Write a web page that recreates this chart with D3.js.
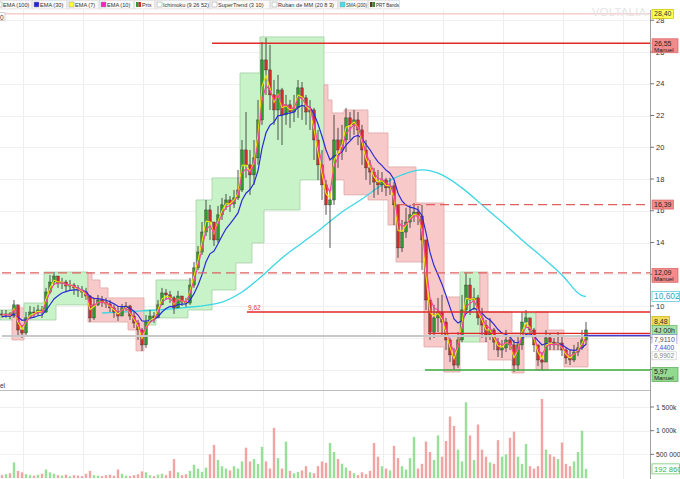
<!DOCTYPE html>
<html><head><meta charset="utf-8">
<script src="https://cdn.jsdelivr.net/npm/d3@7"></script>
<style>
body{margin:0;background:#fff;}
svg{display:block;}
text{font-family:"Liberation Sans",Arial,sans-serif;}
</style></head>
<body><svg id="c" width="680" height="479"></svg>
<script>
// ---------- DATA ----------
const closes=[9.43,9.50,9.37,10.07,8.49,8.30,9.25,9.62,9.56,9.75,
9.62,10.88,11.51,11.89,11.45,11.51,11.26,11.32,11.14,11.01,
10.88,10.63,9.25,10.07,10.38,10.25,10.13,9.88,9.62,9.37,
9.88,10.00,9.37,8.93,8.49,7.55,8.99,9.37,9.25,10.07,
10.82,10.70,10.51,9.88,10.63,10.25,10.19,11.32,12.40,13.40,
14.66,16.05,15.29,14.16,15.74,16.37,16.68,16.43,16.81,17.31,
19.83,18.89,18.26,19.33,21.72,25.50,24.87,23.30,22.35,23.61,
22.04,22.67,22.22,22.48,23.74,23.11,22.22,22.35,20.46,18.89,
17.63,16.37,16.68,20.46,19.83,20.46,21.85,21.41,21.72,21.09,
19.83,18.70,18.44,17.81,17.63,17.94,17.44,17.56,16.37,13.66,
14.66,15.29,15.74,15.92,15.67,14.16,10.38,8.36,9.25,9.62,
8.99,7.86,6.92,6.28,7.86,9.75,11.32,10.38,10.51,9.25,
8.80,8.17,8.49,7.73,7.23,7.36,7.86,7.55,6.28,7.55,
8.99,9.25,8.49,7.55,6.60,6.47,7.99,7.73,7.55,7.67,
7.23,6.73,6.60,7.10,7.36,7.86,8.49];
const highs=[9.75,9.75,9.62,10.38,9.88,8.80,9.62,10.00,9.94,10.07,
10.00,11.14,11.95,12.14,11.89,11.77,11.64,11.64,11.45,11.32,
11.26,11.14,10.70,10.51,10.70,10.63,10.51,10.38,10.07,10.00,
10.13,10.25,10.07,9.62,9.12,8.62,9.43,9.75,9.62,10.38,
11.14,11.07,10.95,10.63,10.95,10.57,10.51,11.77,12.77,13.78,
15.29,16.68,16.37,15.04,16.30,16.81,17.06,16.93,17.31,18.57,
20.46,22.22,19.83,20.46,22.98,26.63,26.89,26.45,24.24,24.56,
23.74,23.30,22.98,23.30,24.24,24.11,23.30,22.98,22.48,21.09,
19.83,17.94,17.31,22.04,21.22,21.41,22.48,22.22,22.35,22.22,
21.41,20.46,19.20,18.70,18.57,18.44,18.07,18.07,17.81,15.73,
15.42,16.18,16.37,16.49,16.30,16.37,12.90,10.38,10.07,10.51,
10.70,9.25,7.99,7.36,8.36,10.70,12.08,11.77,11.14,10.70,
9.88,9.12,9.25,8.62,7.99,7.86,8.49,8.17,7.86,8.17,
9.62,9.75,9.25,8.62,7.55,7.10,8.49,8.30,7.99,8.36,
8.17,7.36,7.23,7.55,7.73,8.49,8.99];
const lows=[9.25,9.25,9.18,9.25,8.05,7.99,8.17,9.25,9.25,9.37,
9.25,9.56,10.76,11.32,11.14,11.07,10.88,10.95,10.70,10.57,
10.51,10.38,8.99,9.12,10.00,9.94,9.88,9.62,9.25,9.06,
9.56,9.69,9.12,8.62,7.86,7.17,7.36,8.99,8.93,9.25,
10.07,10.38,10.19,9.50,10.07,10.00,9.94,10.07,11.14,12.27,
13.22,14.41,14.16,13.78,13.97,15.42,16.05,15.92,16.18,16.68,
17.18,18.07,17.00,17.63,18.89,21.41,23.30,22.35,21.41,20.46,
20.14,21.41,21.22,21.59,21.85,21.72,21.41,21.09,19.20,17.94,
16.68,15.74,13.66,16.37,18.70,19.20,19.70,20.46,20.78,20.14,
18.89,17.94,17.63,16.81,17.00,17.18,16.93,17.00,15.10,13.03,
13.40,14.29,14.92,15.29,15.10,12.27,9.75,7.86,7.99,8.36,
8.17,7.23,6.47,5.97,6.10,7.73,9.62,9.43,9.75,8.80,
7.99,7.73,7.86,7.23,6.79,6.73,7.10,7.23,5.84,5.91,
7.23,8.62,8.11,7.10,6.22,5.97,6.60,7.23,7.23,7.23,
6.85,6.35,6.28,6.47,6.85,7.23,7.55];
// volume in thousands
const volumes=[60,80,100,330,150,120,80,60,50,70,
90,180,120,90,60,50,70,40,60,50,
40,90,150,60,50,40,60,70,50,180,
90,50,40,60,80,140,120,60,40,70,
90,60,150,400,120,60,80,150,280,200,
130,220,500,700,380,250,200,160,250,200,
350,640,350,400,300,660,350,200,1060,420,
200,770,150,100,130,160,250,120,100,250,
350,320,740,550,400,300,220,150,100,60,
120,80,150,740,450,250,200,160,680,420,
250,180,420,870,200,300,770,550,380,900,
450,780,1300,1100,600,350,1600,900,380,1130,
600,450,330,300,800,450,500,850,980,450,
300,720,250,200,250,1670,600,500,450,400,
750,300,250,350,550,1000,192.86];
// PRT bands: steps [fromIndex, price]
const bandUpperSteps=[[0,9.75],[3,9.88],[6,10.19],[11,12.14],[22,12.08],[23,11.64],[25,11.14],[27,10.51],[36,9.75],[39,11.64],[49,16.68],[53,18.07],[60,24.68],[65,26.95],[81,23.93],[82,22.98],[83,22.16],[86,22.35],[92,20.90],[97,18.76],[104,16.49],[111,10.57],[115,12.14],[122,9.62],[128,8.30],[131,9.56],[134,9.62],[137,8.49],[141,7.99]];
const bandLowerSteps=[[0,9.12],[3,7.86],[6,9.12],[14,10.07],[22,8.99],[32,8.49],[34,7.17],[36,8.80],[39,9.25],[47,9.75],[53,11.01],[59,12.71],[63,13.97],[66,16.05],[75,17.94],[81,17.31],[83,17.94],[86,17.00],[92,16.68],[97,15.10],[99,12.77],[106,7.42],[111,5.84],[115,7.73],[122,6.60],[128,5.78],[131,8.05],[134,5.97],[137,7.23],[141,6.16]];
const trendRuns=[[0,"up"],[3,"down"],[6,"up"],[22,"down"],[36,"up"],[81,"down"],[115,"up"],[120,"down"],[131,"up"],[134,"down"]];
// SMA(200) read at sample indices
const smaIdx=[25,35,45,55,60,65,70,75,80,85,90,95,100,105,110,115,120,125,130,135,140,145,146];
const smaVals=[9.56,9.69,9.88,10.25,10.88,11.89,13.03,13.97,14.92,15.92,16.74,17.63,18.26,18.57,18.26,17.44,16.37,15.29,14.16,13.09,11.95,10.65,10.60];
// horizontal levels
const levelValues=[28.40,26.55,16.39,12.09,9.62,8.11,8.27,8.14,5.97];
const levelStartIdx=[0,52.5,99,0,61.25,0,106.5,145.5,105.75];
const priceTicks=[6,8,10,12,14,16,18,20,22,24,26,28];
const priceTickLabels=[14,16,18,20,22,24,26,28,10];
const volTicks=[500,1000,1500];
const volTickLabels=["500 000","1 000k","1 500k"];
const legendItems=["EMA (100)","EMA (30)","EMA (7)","EMA (10)","Prix","Ichimoku (9 26 52)","SuperTrend (3 10)","Ruban de MM (20 8 3)","SMA (200)","PRT Bands"];

// ---------- LAYOUT ----------
const svg=d3.select("#c");
const plotR=650, mainTop=10, mainBot=390, volBot=478;
const N=closes.length;
const x=d3.scaleLinear().domain([0,N-1]).range([2,586]);
const y=d3.scaleLinear().domain([10,26]).range([306,52]);
const yv=d3.scaleLinear().domain([0,1500]).range([volBot,407]);

const defs=svg.append("defs");
defs.append("clipPath").attr("id","mainClip").append("rect").attr("x",0).attr("y",mainTop).attr("width",plotR).attr("height",mainBot-mainTop);

// grid
const grid=svg.append("g");
grid.selectAll(".hg").data(priceTicks).join("line").attr("x1",0).attr("x2",plotR)
  .attr("y1",d=>Math.round(y(d))+0.5).attr("y2",d=>Math.round(y(d))+0.5).attr("stroke","#f0f0f0");
grid.selectAll(".vgl").data(volTicks).join("line").attr("x1",0).attr("x2",plotR)
  .attr("y1",d=>Math.round(yv(d))+0.5).attr("y2",d=>Math.round(yv(d))+0.5).attr("stroke","#f0f0f0");
grid.selectAll(".vg").data(d3.range(5.25,160,15)).join("line")
  .attr("x1",d=>Math.round(x(d))+0.5).attr("x2",d=>Math.round(x(d))+0.5)
  .attr("y1",mainTop).attr("y2",479).attr("stroke","#eeeeee");

const main=svg.append("g").attr("clip-path","url(#mainClip)");

// bands
function stepVal(steps,i){let v=steps[0][1];for(const s of steps){if(i>=s[0])v=s[1];}return v;}
trendRuns.forEach((r,k)=>{
  const a=r[0], b=(k+1<trendRuns.length?trendRuns[k+1][0]:N);
  const pts=d3.range(a,b).map(i=>({xl:x(i)-2,up:stepVal(bandUpperSteps,i),lo:stepVal(bandLowerSteps,i)}));
  const last=pts[pts.length-1];
  pts.push({xl:x(b-1)+2,up:last.up,lo:last.lo});
  const area=d3.area().x(d=>d.xl).y0(d=>y(d.lo)).y1(d=>y(d.up)).curve(d3.curveStepAfter);
  main.append("path").attr("d",area(pts))
    .attr("fill",r[1]==="up"?"#c8f3c8":"#f8c9c9")
    .attr("stroke",r[1]==="up"?"#a3cfa3":"#dea7a7").attr("stroke-width",0.8);
});

// levels
const levelStyle=[
 {c:"#f2b4b4",w:1,d:null},{c:"#e02828",w:1.4,d:null},{c:"#e06060",w:1.2,d:"9,5"},
 {c:"#e06060",w:1.2,d:"9,5"},{c:"#e02828",w:1.4,d:null},{c:"#c8c8c8",w:2,d:null},
 {c:"#e02828",w:1.3,d:null},{c:"#4a3ad0",w:1.5,d:null},{c:"#3aa83a",w:1.5,d:null}];
levelValues.forEach((v,k)=>{
  const s=levelStyle[k];
  svg.append("line").attr("x1",x(levelStartIdx[k])).attr("x2",plotR)
    .attr("y1",y(v)).attr("y2",y(v)).attr("stroke",s.c).attr("stroke-width",s.w)
    .attr("stroke-dasharray",s.d);
});
svg.append("text").attr("x",x(levelStartIdx[4])+1).attr("y",y(levelValues[4])-2.5)
  .attr("font-size",6.5).attr("fill","#e04040").text("9,62");

// SMA 200
main.append("path").datum(smaIdx.map((d,i)=>[d,smaVals[i]]))
  .attr("d",d3.line().x(d=>x(d[0])).y(d=>y(d[1])).curve(d3.curveMonotoneX))
  .attr("fill","none").attr("stroke","#3dd6e6").attr("stroke-width",1.3);

// candles
const opens=closes.map((c,i)=>i?closes[i-1]:9.5);
const cd=closes.map((c,i)=>({i,o:opens[i],c,h:Math.max(highs[i],c,opens[i]),l:Math.min(lows[i],c,opens[i]),up:c>=opens[i]}));
const cg=main.append("g");
cg.selectAll(".w").data(cd).join("line").attr("x1",d=>x(d.i)).attr("x2",d=>x(d.i))
  .attr("y1",d=>y(d.h)).attr("y2",d=>y(d.l)).attr("stroke","#2a2a2a").attr("stroke-width",0.8);
cg.selectAll(".b").data(cd).join("rect").attr("x",d=>x(d.i)-1.3).attr("width",2.6)
  .attr("y",d=>y(Math.max(d.o,d.c))).attr("height",d=>Math.max(1,Math.abs(y(d.o)-y(d.c))))
  .attr("fill",d=>d.up?"#2c9a2c":"#d42a2a").attr("stroke","#303030").attr("stroke-width",0.4);

// EMAs derived from closes (sample-based periods)
function ema(vals,alpha,seed){let e=seed;return vals.map(v=>(e=e+alpha*(v-e)));}
const ema30=ema(closes,0.2,9.3), ema10=ema(closes,0.5,closes[0]), ema7=ema(closes,0.65,closes[0]);
const ln=d3.line().x((d,i)=>x(i)).y(d=>y(d));
main.append("path").attr("d",ln(ema30)).attr("fill","none").attr("stroke","#2b2bd8").attr("stroke-width",1.2);
main.append("path").attr("d",ln(ema7)).attr("fill","none").attr("stroke","#f2e400").attr("stroke-width",1.1);
main.append("path").attr("d",ln(ema10)).attr("fill","none").attr("stroke","#ff3fa0").attr("stroke-width",1.1);

// volume
svg.append("g").selectAll("rect").data(volumes).join("rect")
  .attr("x",(d,i)=>x(i)-1.2).attr("width",2.4)
  .attr("y",d=>yv(d)).attr("height",d=>volBot-yv(d))
  .attr("fill",(d,i)=>cd[i].up?"#86da86":"#ee9494").attr("opacity",0.85);

// panel separators & axis
svg.append("line").attr("x1",0).attr("x2",plotR).attr("y1",mainBot+0.5).attr("y2",mainBot+0.5).attr("stroke","#bdbdbd");
svg.append("line").attr("x1",plotR+0.5).attr("x2",plotR+0.5).attr("y1",mainTop).attr("y2",479).attr("stroke","#a0a0a0");
svg.append("text").attr("x",0).attr("y",388).attr("font-size",6.5).attr("fill","#333").text("el");

// watermark
svg.append("text").attr("x",592).attr("y",15.5).attr("font-size",11).attr("fill","#e4e4e4")
  .attr("textLength",54).text("VOLTALIA");

// price ticks (labels hidden behind tags in the reference are left out)
const ax=svg.append("g");
ax.selectAll(".tk").data(priceTicks).join("line").attr("x1",plotR).attr("x2",plotR+4)
  .attr("y1",d=>y(d)).attr("y2",d=>y(d)).attr("stroke","#777");
ax.selectAll(".tl").data(priceTickLabels).join("text").attr("x",656).attr("y",d=>y(d)+2.7)
  .attr("font-size",7.5).attr("fill","#333").text(d=>d);
ax.selectAll(".vk").data(volTicks).join("line").attr("x1",plotR).attr("x2",plotR+4)
  .attr("y1",d=>yv(d)).attr("y2",d=>yv(d)).attr("stroke","#777");
ax.selectAll(".vl").data(volTicks).join("text").attr("x",656).attr("y",d=>yv(d)+2.5)
  .attr("font-size",6.8).attr("fill","#333").text((d,i)=>volTickLabels[i]);

// right labels
function tag(cy,lines,bg,stroke,color,fs,minW,hh){
  const g=svg.append("g");
  const r=g.append("rect");
  const t=lines.map((s,k)=>g.append("text").attr("x",654).attr("font-size",k?6:fs).attr("fill",color).text(s));
  const w=Math.min(27.5,Math.max(minW||0,d3.max(t,n=>n.node().getComputedTextLength())+4));
  const h=hh||(lines.length>1?14:(fs>7.5?10:9));
  const top=cy-(lines.length>1?4.5:h/2);
  r.attr("x",652).attr("y",top).attr("width",w).attr("height",h).attr("fill",bg).attr("stroke",stroke).attr("stroke-width",0.7);
  t[0].attr("y",top+(fs>7.5?7.8:(h<9?6.3:7)));
  if(t[1])t[1].attr("y",top+12.8);
}
tag(y(28.40),["28,40"],"#ffff55","#c8c000","#333",7);
tag(y(26.55),["26,55","Manuel"],"#f28b8b","#d96565","#222",7,26);
tag(y(16.39),["16,39"],"#f28b8b","#d96565","#222",7);
tag(y(12.09),["12,09","Manuel"],"#f28b8b","#d96565","#222",7,26);
tag(y(10.602),["10,602"],"#ffffff","#46c8d8","#22aac4",8.4);
tag(y(8.48)-9,["8,48"],"#f2dc5a","#c8b000","#333",7);
tag(y(8.48),["4J 00h"],"#a6e2a6","#5fb25f","#222",7);
tag(y(7.911),["7,9110"],"#ffffff","#8888cc","#555",7);
tag(y(7.40),["7,4400"],"#ffffff","#ffffff","#4848d0",6.6,0,8);
tag(y(6.99)+2,["6,9902"],"#ffffff","#cccccc","#888",6.6,0,8);
tag(y(5.97)+2,["5,97","Manuel"],"#92da92","#55aa55","#222",7,26);
tag(yv(192.86),["192 860"],"#ffffff","#60c060","#3fb03f",7.6);

// legend
const legStarts=[-4,33,68,100,135,156,211,271,339,369];
const legColors=["#ffffff","#2424e0","#ffff30","#ff20c0",null,"#ffffff","#ffffff","#ffffff","#40e0f0",null];
const lg=svg.append("g");
legendItems.forEach((t,k)=>{
  const sx=legStarts[k];
  const ex=(k+1<legStarts.length?legStarts[k+1]:sx+32)-1;
  lg.append("rect").attr("x",sx-0.5).attr("y",0.5).attr("width",ex-sx).attr("height",8.5).attr("fill","#fafafa").attr("stroke","#d6d6d6").attr("stroke-width",0.6);
  if(k===4||k===9){
    lg.append("rect").attr("x",sx+1).attr("y",2).attr("width",2.5).attr("height",5).attr("fill",k===4?"#2c9a2c":"#5a3a1a");
    lg.append("rect").attr("x",sx+3.5).attr("y",2).attr("width",2.5).attr("height",5).attr("fill",k===4?"#d42a2a":"#3a8a3a");
  } else {
    lg.append("rect").attr("x",sx+1).attr("y",2).attr("width",5).attr("height",5).attr("fill",legColors[k]).attr("stroke","#999").attr("stroke-width",0.5);
  }
  const tx=lg.append("text").attr("x",sx+7).attr("y",7).attr("font-size",5.6).attr("fill","#333").text(t);
  const avail=ex-sx-8;
  if(tx.node().getComputedTextLength()>avail) tx.attr("textLength",avail).attr("lengthAdjust","spacingAndGlyphs");
});
svg.append("rect").attr("x",-2).attr("y",12.5).attr("width",7).attr("height",8).attr("fill","#fff").attr("stroke","#bbb").attr("stroke-width",0.6);
svg.append("text").attr("x",0).attr("y",19.5).attr("font-size",6.5).attr("fill","#333").text("0");
</script></body></html>
